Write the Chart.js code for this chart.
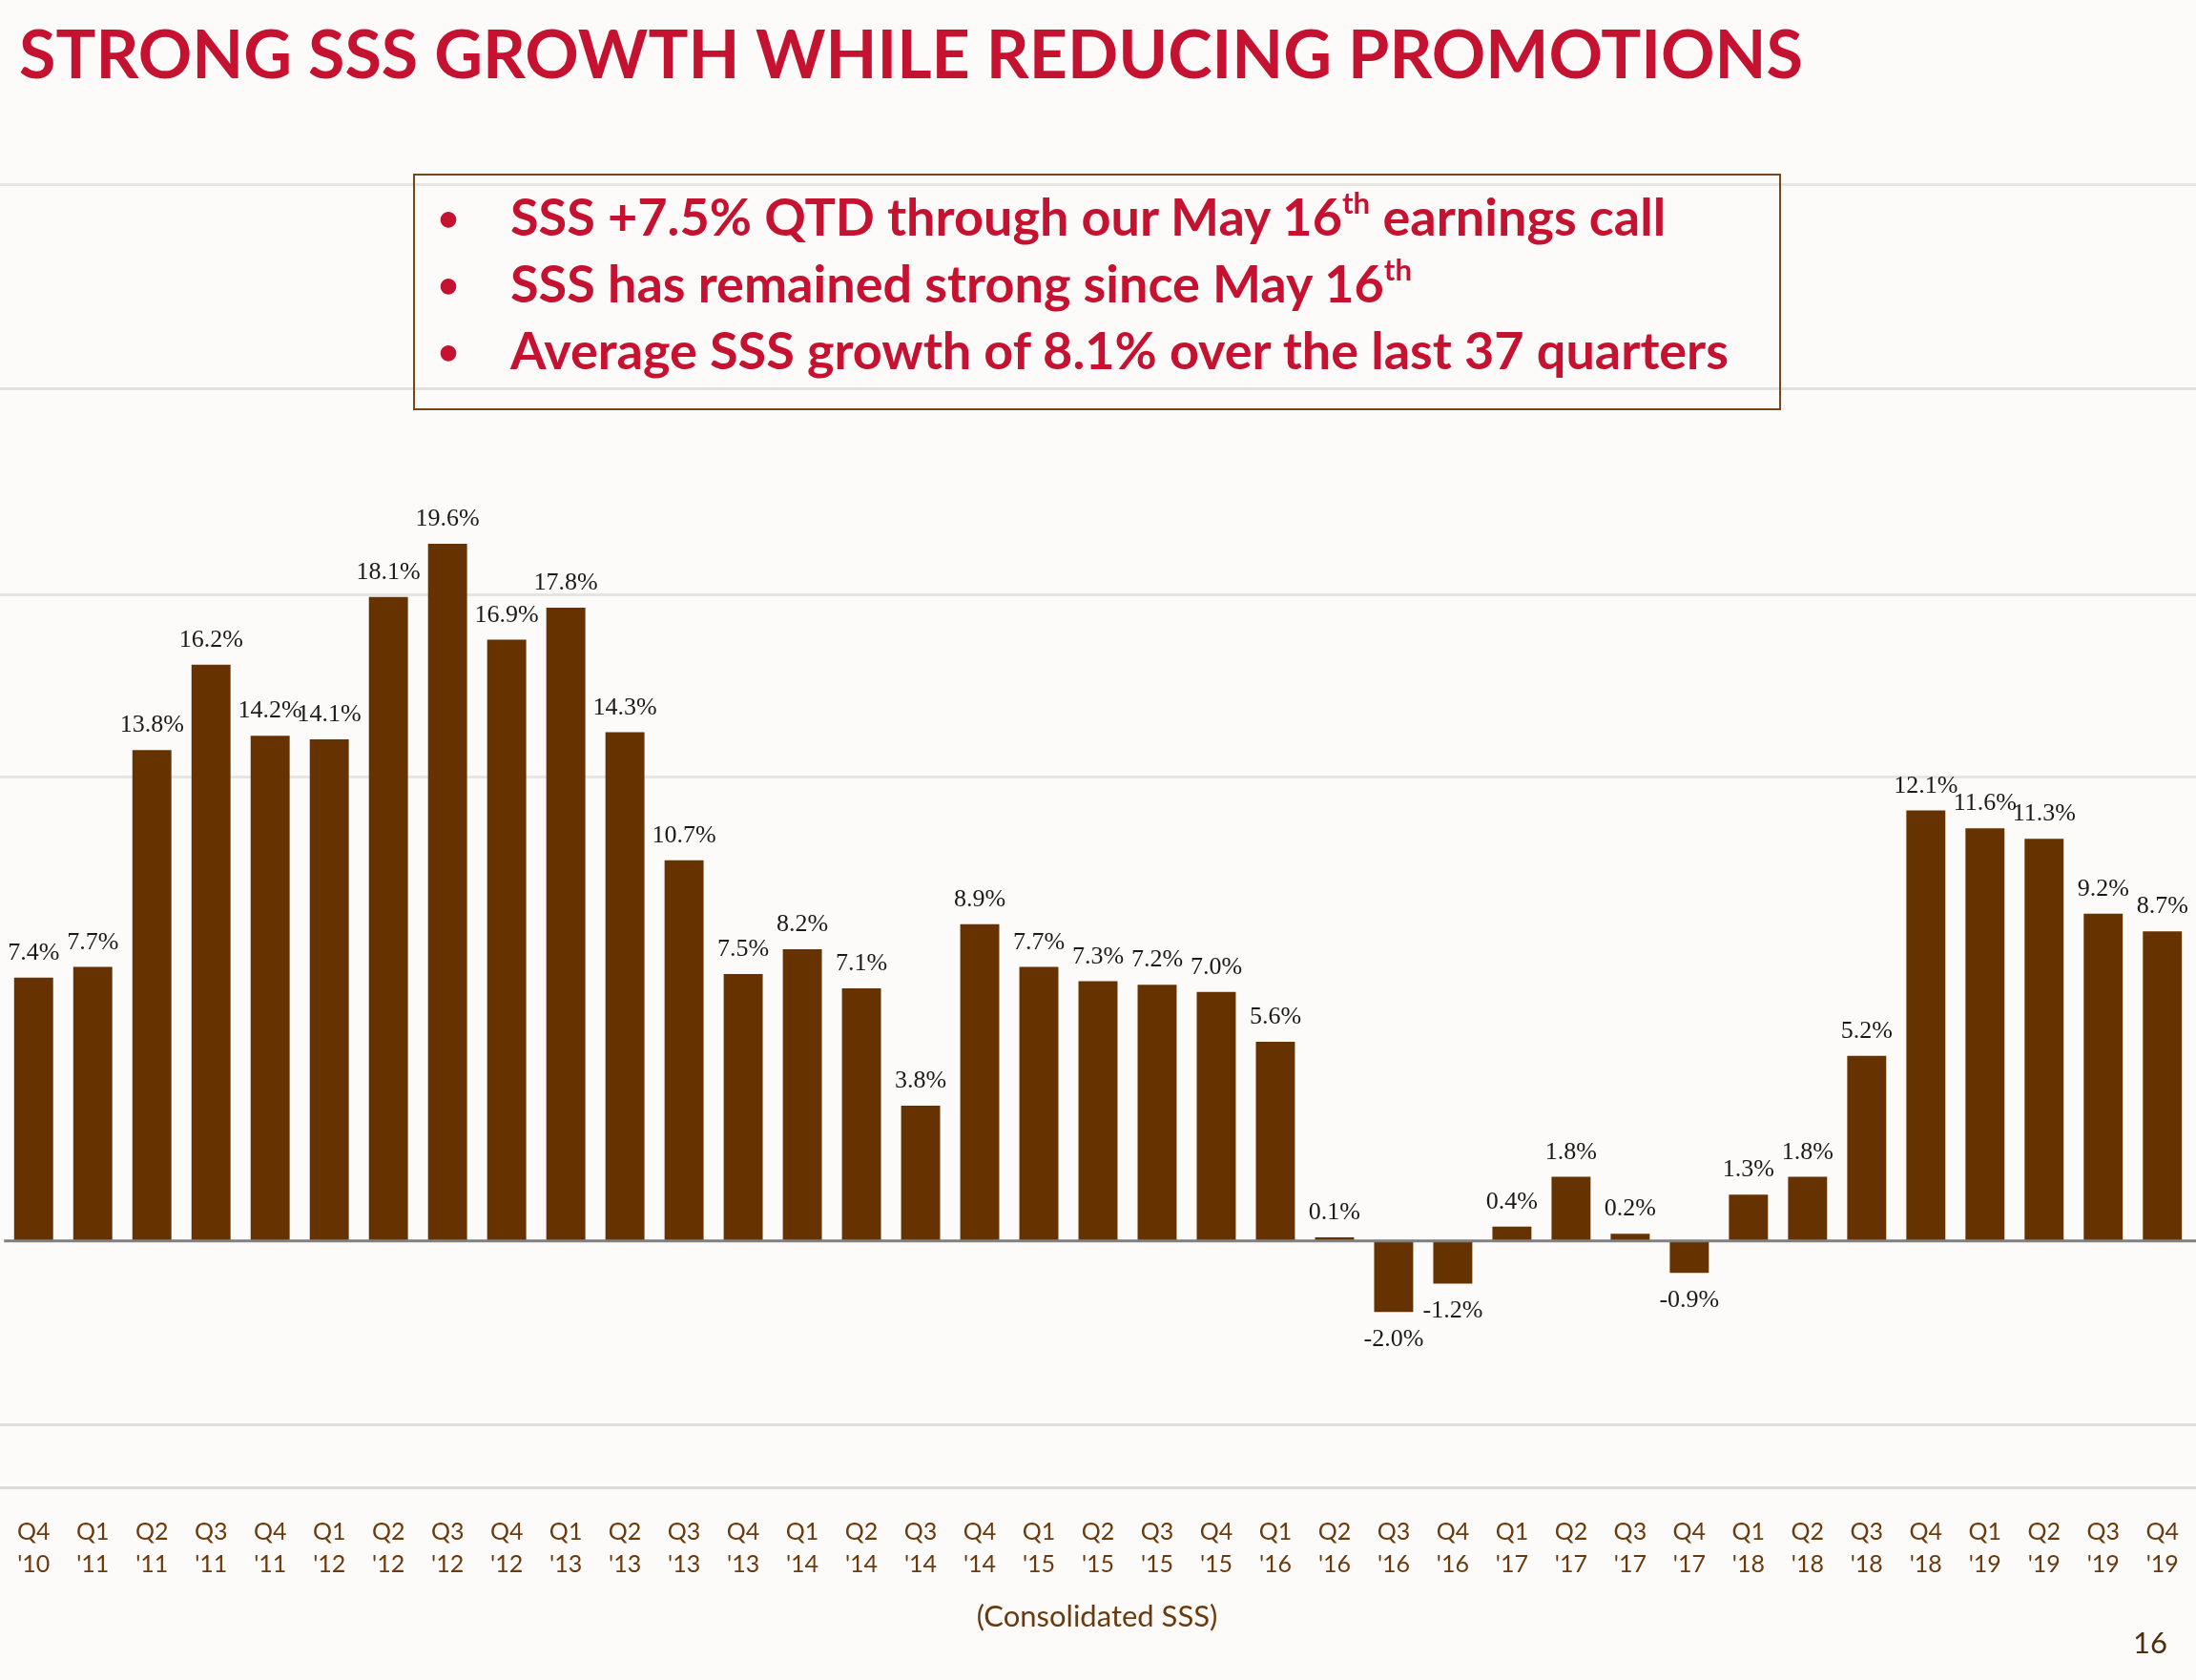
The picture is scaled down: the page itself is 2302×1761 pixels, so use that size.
<!DOCTYPE html>
<html>
<head>
<meta charset="utf-8">
<script src="https://cdn.jsdelivr.net/npm/chart.js@4.4.1/dist/chart.umd.min.js"></script>
<style>
  html, body { margin: 0; padding: 0; }
  body {
    width: 2302px; height: 1761px; position: relative; overflow: hidden;
    background-color: #fcfbfa;
    background-image:
      linear-gradient(to bottom, transparent 192px, #e6e4e1 192px, #e6e4e1 195px, transparent 195px),
      linear-gradient(to bottom, transparent 406px, #e3e1de 406px, #e3e1de 409px, transparent 409px),
      linear-gradient(to bottom, transparent 622px, #e6e4e1 622px, #e6e4e1 625px, transparent 625px),
      linear-gradient(to bottom, transparent 813px, #e8e6e3 813px, #e8e6e3 816px, transparent 816px),
      linear-gradient(to bottom, transparent 1492px, #e0deda 1492px, #e0deda 1495px, transparent 1495px),
      linear-gradient(to bottom, transparent 1558px, #dedcd8 1558px, #dedcd8 1561px, transparent 1561px);
  }
  #chart { position: absolute; left: 0; top: 0; }
  .title {
    position: absolute; left: 20px; top: 20px; margin: 0;
    font: bold 70px/1 Lato, sans-serif; color: #c41230; white-space: nowrap;
  }
  .box {
    position: absolute; left: 433px; top: 182px; width: 1430px; height: 244px;
    border: 2px solid #7a4517; box-sizing: content-box;
  }
  .box ul {
    list-style: none; margin: 0; padding: 0;
    position: absolute; left: 0; top: 8px; width: 100%;
  }
  .box li {
    position: relative; padding-left: 100px;
    font: bold 54px/70px Lato, sans-serif; color: #c41230; white-space: nowrap;
  }
  .box li::before {
    content: "\2022"; position: absolute; left: 24px; top: 0; font-size: 38px;
  }
  .box sup { font-size: 0.58em; line-height: 0; vertical-align: 0.72em; }
  .note {
    position: absolute; left: 1150px; top: 1678px; transform: translateX(-50%);
    font: 31px/1 Lato, sans-serif; color: #6b3a0c; white-space: nowrap;
  }
  .page {
    position: absolute; left: 2236px; top: 1706px;
    font: 31px/1 Lato, sans-serif; color: #4e2f0c;
  }
</style>
</head>
<body>
<canvas id="chart" width="2302" height="1761"></canvas>
<div class="title">STRONG SSS GROWTH WHILE REDUCING PROMOTIONS</div>
<div class="box">
  <ul>
    <li>SSS +7.5% QTD through our May 16<sup>th</sup> earnings call</li>
    <li>SSS has remained strong since May 16<sup>th</sup></li>
    <li>Average SSS growth of 8.1% over the last 37 quarters</li>
  </ul>
</div>
<div class="note">(Consolidated SSS)</div>
<div class="page">16</div>

<script>
const quarters = ['Q4', 'Q1', 'Q2', 'Q3', 'Q4', 'Q1', 'Q2', 'Q3', 'Q4', 'Q1', 'Q2', 'Q3', 'Q4',
  'Q1', 'Q2', 'Q3', 'Q4', 'Q1', 'Q2', 'Q3', 'Q4', 'Q1', 'Q2', 'Q3', 'Q4',
  'Q1', 'Q2', 'Q3', 'Q4', 'Q1', 'Q2', 'Q3', 'Q4', 'Q1', 'Q2', 'Q3', 'Q4'];
const years = ["'10", "'11", "'11", "'11", "'11", "'12", "'12", "'12", "'12", "'13", "'13", "'13", "'13",
  "'14", "'14", "'14", "'14", "'15", "'15", "'15", "'15", "'16", "'16", "'16", "'16",
  "'17", "'17", "'17", "'17", "'18", "'18", "'18", "'18", "'19", "'19", "'19", "'19"];
const sssGrowth = [7.4, 7.7, 13.8, 16.2, 14.2, 14.1, 18.1, 19.6, 16.9, 17.8, 14.3, 10.7, 7.5,
  8.2, 7.1, 3.8, 8.9, 7.7, 7.3, 7.2, 7.0, 5.6, 0.1, -2.0, -1.2,
  0.4, 1.8, 0.2, -0.9, 1.3, 1.8, 5.2, 12.1, 11.6, 11.3, 9.2, 8.7];

const BAR_COLOR = '#663300';
const TICK_COLOR = '#6b3a0c';

// zero line + value labels above / below each bar
const barLabels = {
  id: 'barLabels',
  afterDatasetsDraw(chart) {
    const { ctx, chartArea } = chart;
    const y0 = chart.scales.y.getPixelForValue(0);
    ctx.save();
    ctx.strokeStyle = '#808080';
    ctx.lineWidth = 3;
    ctx.beginPath();
    ctx.moveTo(chartArea.left, y0);
    ctx.lineTo(chart.width, y0);
    ctx.stroke();

    ctx.font = "26px 'Liberation Serif', 'Times New Roman', serif";
    ctx.fillStyle = '#1a1a1a';
    ctx.textAlign = 'center';
    ctx.textBaseline = 'alphabetic';
    chart.getDatasetMeta(0).data.forEach((bar, i) => {
      const v = sssGrowth[i];
      const txt = v.toFixed(1) + '%';
      const y = v >= 0 ? bar.y - 19 : bar.y + 36;
      ctx.fillText(txt, bar.x, y);
    });
    ctx.restore();
  }
};

new Chart(document.getElementById('chart'), {
  type: 'bar',
  data: {
    labels: quarters.map((q, i) => [q, years[i]]),
    datasets: [{
      data: sssGrowth,
      backgroundColor: BAR_COLOR,
      borderWidth: 0,
      barPercentage: 0.66,
      categoryPercentage: 1.0,
    }],
  },
  options: {
    responsive: false,
    animation: false,
    devicePixelRatio: 1,
    layout: { padding: { left: 4, right: 0, top: 555, bottom: 86 } },
    plugins: { legend: { display: false }, tooltip: { enabled: false } },
    scales: {
      x: {
        grid: { display: false, drawTicks: false },
        border: { display: false },
        ticks: {
          color: TICK_COLOR,
          font: { family: 'Lato', size: 25, lineHeight: 34 / 25 },
          padding: 18,
          maxRotation: 0,
          autoSkip: false,
        },
      },
      y: {
        display: false,
        min: -7.25,
        max: 20,
      },
    },
  },
  plugins: [barLabels],
});
</script>
</body>
</html>
